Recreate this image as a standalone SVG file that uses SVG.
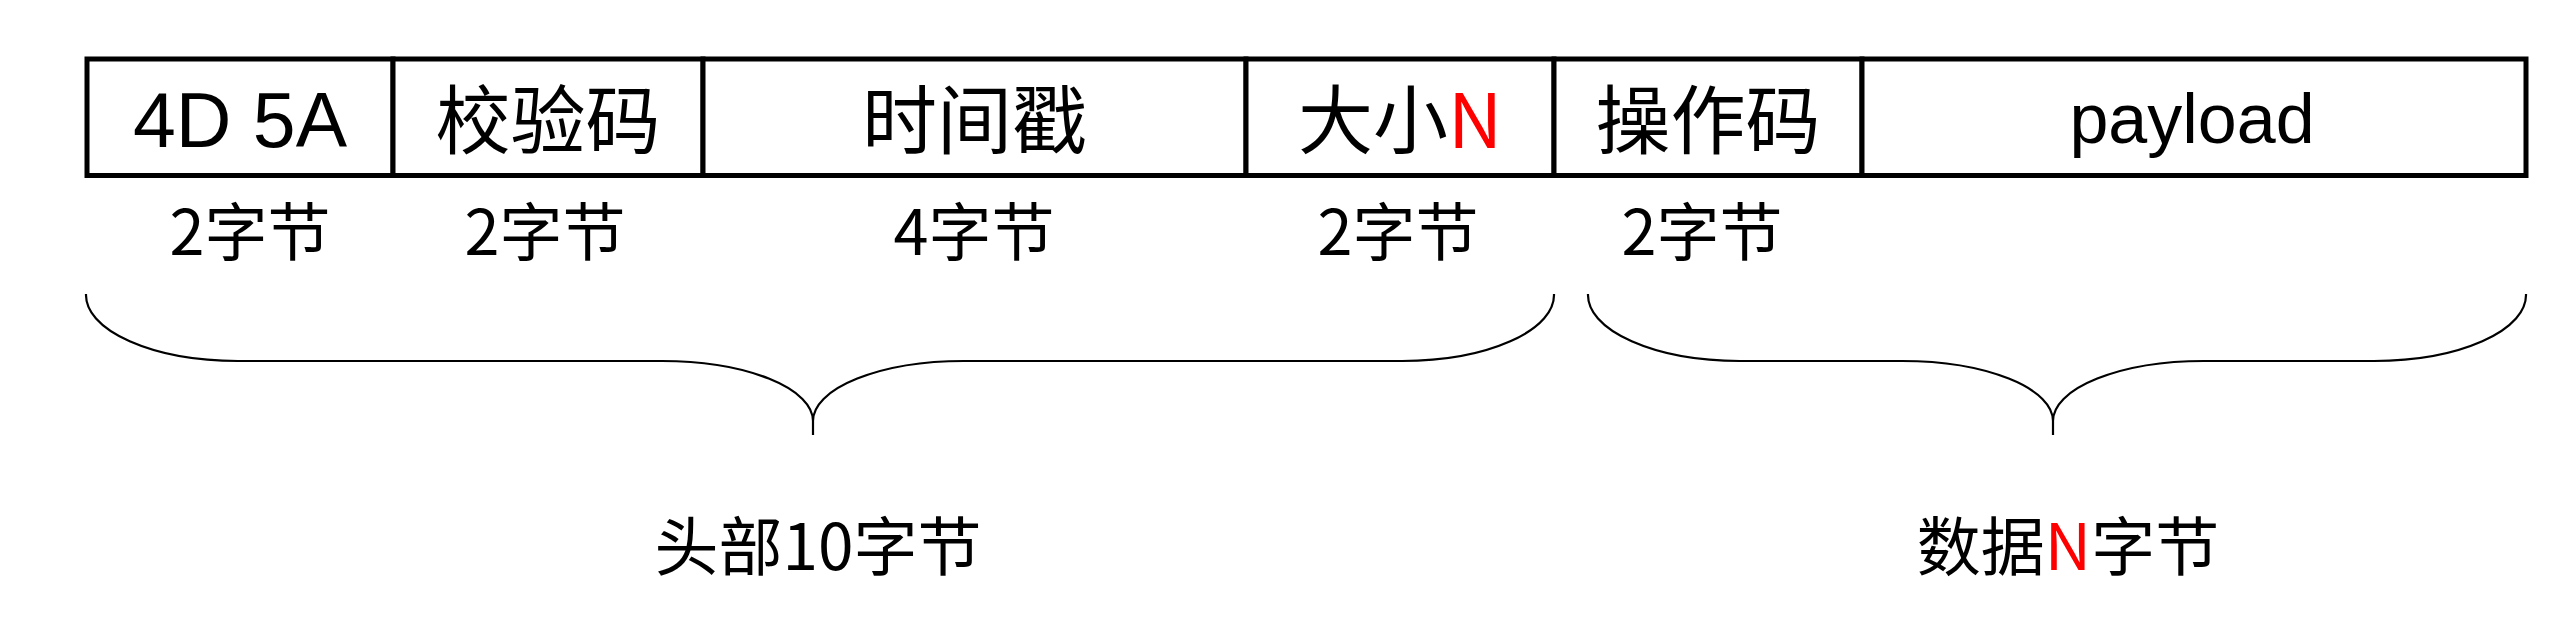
<svg xmlns="http://www.w3.org/2000/svg" width="2554" height="622" viewBox="0 0 2554 622">
<style>
.cell{fill:#fff;stroke:#000;stroke-width:5}
.lbl{font-family:"Noto Sans CJK SC","Liberation Sans",sans-serif;font-size:75px;fill:#000;text-anchor:middle}
.lat{font-family:"Liberation Sans","Noto Sans CJK SC",sans-serif;fill:#000;text-anchor:middle}
.sz{font-family:"Noto Sans CJK SC","Liberation Sans",sans-serif;font-size:63px;fill:#000;text-anchor:middle}
.big{font-family:"Noto Sans CJK SC","Liberation Sans",sans-serif;font-size:64px;fill:#000;text-anchor:middle}
.red{fill:#ff0000}
.brace{fill:none;stroke:#000;stroke-width:2.2}
</style>
<rect width="2554" height="622" fill="#fff"/>
<g id="cell-magic">
<rect class="cell" x="87" y="59" width="306" height="116.5"/>
<text class="lat" x="240" y="147" font-size="77">4D 5A</text>
</g>
<g id="cell-checksum">
<rect class="cell" x="393" y="59" width="310" height="116.5"/>
<text class="lbl" x="548" y="148">校验码</text>
</g>
<g id="cell-timestamp">
<rect class="cell" x="703" y="59" width="543" height="116.5"/>
<text class="lbl" x="974.5" y="148">时间戳</text>
</g>
<g id="cell-size">
<rect class="cell" x="1246" y="59" width="308" height="116.5"/>
<text class="lbl" x="1400" y="148">大小<tspan class="red">N</tspan></text>
</g>
<g id="cell-opcode">
<rect class="cell" x="1554" y="59" width="308" height="116.5"/>
<text class="lbl" x="1708" y="148">操作码</text>
</g>
<g id="cell-payload">
<rect class="cell" x="1862" y="59" width="664" height="116.5"/>
<text class="lat" x="2192" y="143" font-size="70">payload</text>
</g>
<g id="sizes">
<text class="sz" x="250" y="255">2字节</text>
<text class="sz" x="545" y="255">2字节</text>
<text class="sz" x="974" y="255">4字节</text>
<text class="sz" x="1398" y="255">2字节</text>
<text class="sz" x="1702" y="255">2字节</text>
</g>
<g id="connectors">
<path class="brace" d="M86,294 A152,66 0 0 0 238,361 L662,361 A151,60 0 0 1 813,421 L813,435 M813,421 A151,60 0 0 1 964,361 L1402,361 A152,66 0 0 0 1554,294"/>
<path class="brace" d="M1588,294 A152,66 0 0 0 1740,361 L1902,361 A151,60 0 0 1 2053,421 L2053,435 M2053,421 A151,60 0 0 1 2204,361 L2374,361 A152,66 0 0 0 2526,294"/>
</g>
<g id="header-label">
<text class="big" x="818" y="570">头部10字节</text>
</g>
<g id="data-label">
<text class="big" x="2068" y="570">数据<tspan class="red">N</tspan>字节</text>
</g>
</svg>
